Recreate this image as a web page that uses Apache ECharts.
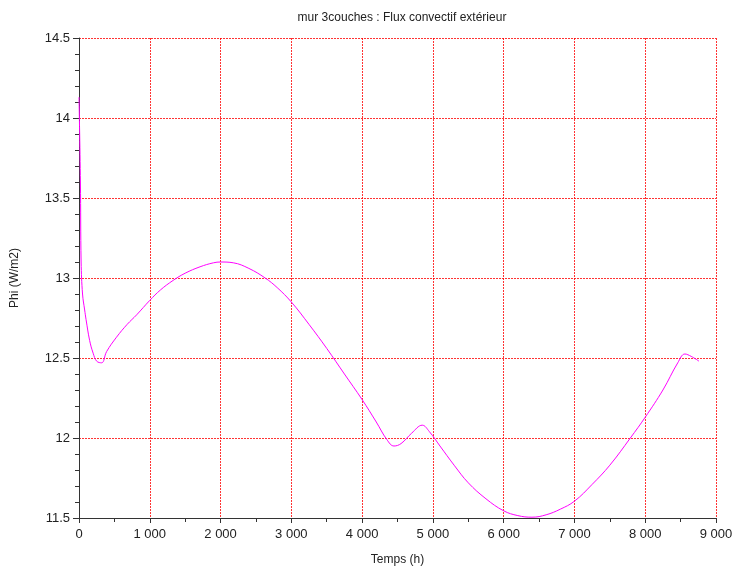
<!DOCTYPE html>
<html>
<head>
<meta charset="utf-8">
<script src="https://cdn.jsdelivr.net/npm/echarts@6/dist/echarts.min.js"></script>
<style>
html,body{margin:0;padding:0;background:#fff;}
#c{width:740px;height:583px;}
</style>
</head>
<body>
<div id="c"></div>
<script>
const titleText = "mur 3couches : Flux convectif extérieur";
const xName = "Temps (h)";
const yName = "Phi (W/m2)";
const timeH = [0, 20, 30, 50, 80, 100, 150, 200, 250, 320, 390, 530, 680, 815, 1000, 1150, 1330, 1500, 1710, 1900, 2000, 2180, 2400, 2630, 2800, 3000, 3250, 3500, 3750, 4000, 4200, 4350, 4450, 4550, 4700, 4850, 4950, 5100, 5300, 5500, 5750, 6000, 6200, 6400, 6600, 6800, 7000, 7250, 7500, 7790, 8000, 8250, 8460, 8560, 8650, 8760];
const phi = [14.13, 13.6, 13.1, 12.9, 12.8, 12.74, 12.61, 12.53, 12.48, 12.47, 12.54, 12.63, 12.71, 12.77, 12.86, 12.925, 12.985, 13.03, 13.07, 13.095, 13.10, 13.095, 13.06, 13.0, 12.94, 12.85, 12.71, 12.56, 12.40, 12.24, 12.10, 11.99, 11.95, 11.965, 12.03, 12.08, 12.04, 11.95, 11.83, 11.72, 11.62, 11.545, 11.515, 11.505, 11.52, 11.555, 11.605, 11.71, 11.83, 12.0, 12.13, 12.30, 12.47, 12.525, 12.51, 12.48];

const data = timeH.map((t, i) => [t, phi[i]]);
const chart = echarts.init(document.getElementById('c'));
const txt = '#222';
const font = 'Liberation Sans, Arial, sans-serif';
const gridLine = {show: true, lineStyle: {color: ['rgb(255,0,0)'], type: [2, 1], width: 1, opacity: 0.8}};
chart.setOption({
  animation: false,
  backgroundColor: '#fff',
  title: {
    text: titleText, left: 397, top: 7, textAlign: 'center',
    textStyle: {fontSize: 12, fontWeight: 'normal', color: txt, fontFamily: font}
  },
  grid: {left: 79, right: 24, top: 38, bottom: 65},
  xAxis: {
    type: 'value', min: 0, max: 9000, interval: 1000,
    name: xName, nameLocation: 'middle', nameGap: 36,
    nameTextStyle: {fontSize: 12, color: txt, fontFamily: font},
    axisLine: {show: true, onZero: false, lineStyle: {color: '#333', width: 1}},
    axisTick: {show: true, length: 5, inside: false, lineStyle: {color: '#333'}},
    minorTick: {show: true, splitNumber: 2, length: 4, lineStyle: {color: '#333'}},
    minorSplitLine: {show: false},
    axisLabel: {fontSize: 13, color: txt, fontFamily: font, margin: 10,
      formatter: v => String(v).replace(/\B(?=(\d{3})+(?!\d))/g, ' ')},
    splitLine: gridLine
  },
  yAxis: {
    type: 'value', min: 11.5, max: 14.5, interval: 0.5,
    name: yName, nameLocation: 'middle', nameGap: 58, nameRotate: 90,
    nameTextStyle: {fontSize: 12, color: txt, fontFamily: font},
    axisLine: {show: true, onZero: false, lineStyle: {color: '#333', width: 1}},
    axisTick: {show: true, length: 6, inside: false, lineStyle: {color: '#333'}},
    minorTick: {show: true, splitNumber: 5, length: 4, lineStyle: {color: '#333'}},
    minorSplitLine: {show: false},
    axisLabel: {fontSize: 13, color: txt, fontFamily: font, margin: 9},
    splitLine: gridLine
  },
  series: [{
    type: 'line', data: data, showSymbol: false, smooth: 0.4,
    lineStyle: {color: '#ff00ff', width: 1}, itemStyle: {color: '#ff00ff'}
  }]
});
</script>
</body>
</html>
